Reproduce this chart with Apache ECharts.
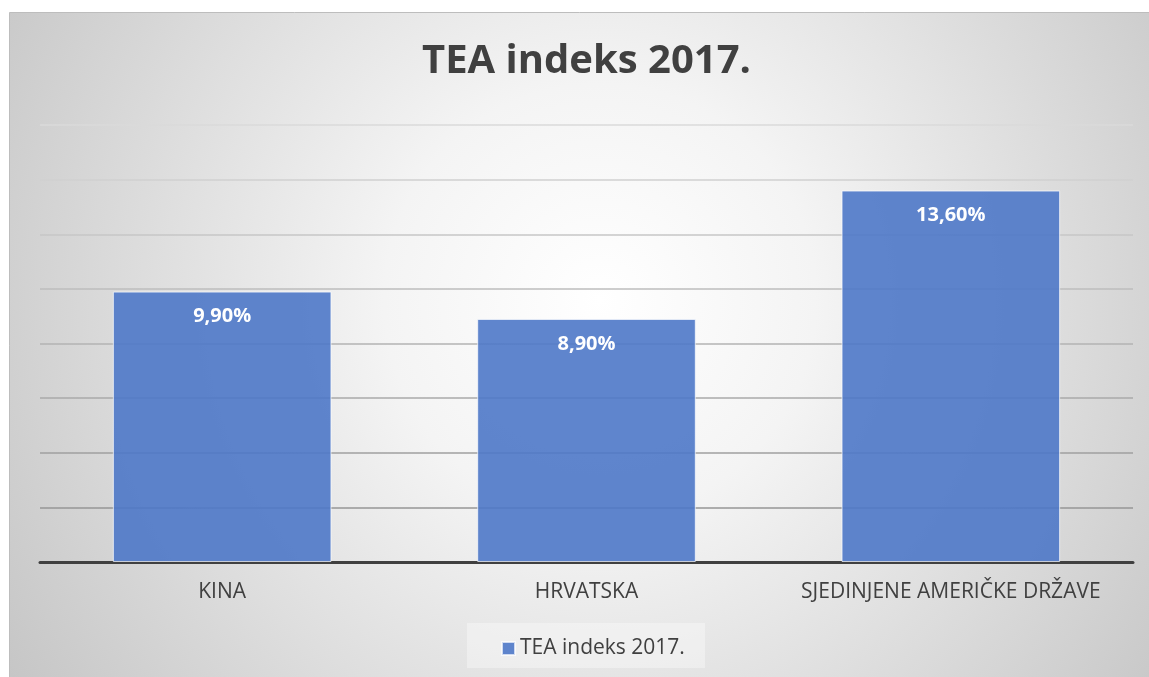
<!DOCTYPE html>
<html>
<head>
<meta charset="utf-8">
<script src="https://cdn.jsdelivr.net/npm/echarts@6/dist/echarts.min.js"></script>
<style>
html, body { margin: 0; padding: 0; background: #fff; }
#chart { width: 1149px; height: 677px; }
</style>
</head>
<body>
<div id="chart"></div>
<script>
var categories = ['KINA', 'HRVATSKA', 'SJEDINJENE AMERIČKE DRŽAVE'];
var teaValues = [9.9, 8.9, 13.6];
var seriesName = 'TEA indeks 2017.';

var myChart = echarts.init(document.getElementById('chart'));

var option = {
    backgroundColor: '#ffffff',
    animation: false,
    textStyle: { fontFamily: 'Open Sans' },
    graphic: [{
        type: 'rect',
        z: -10,
        silent: true,
        shape: { x: 9.5, y: 12.5, width: 1145, height: 670 },
        style: {
            stroke: '#bdbdbd',
            lineWidth: 1,
            fill: {
                type: 'radial', x: 600, y: 300, r: 720, global: true,
                colorStops: [
                    { offset: 0, color: '#ffffff' },
                    { offset: 0.3, color: '#f4f4f4' },
                    { offset: 1, color: '#c4c4c4' }
                ]
            }
        }
    }, {
        type: 'rect',
        z: -5,
        silent: true,
        shape: { x: 467, y: 623, width: 238, height: 45 },
        style: { fill: 'rgba(255,255,255,0.35)' }
    }],
    title: {
        text: 'TEA indeks 2017.',
        left: 417,
        top: 37,
        textStyle: {
            fontFamily: 'Open Sans',
            fontSize: 40,
            fontWeight: 'bold',
            color: '#404040'
        }
    },
    legend: {
        data: [seriesName],
        bottom: 13,
        left: 496,
        icon: 'rect',
        itemWidth: 13,
        itemHeight: 13,
        itemGap: 6,
        textStyle: { fontSize: 21, color: '#404040', fontFamily: 'Open Sans' }
    },
    grid: {
        left: 40,
        right: 16,
        top: 125,
        bottom: 115
    },
    xAxis: {
        type: 'category',
        data: categories,
        axisTick: { show: false },
        axisLine: { lineStyle: { color: '#404040', width: 3 } },
        axisLabel: {
            interval: 0,
            fontSize: 21,
            color: '#404040',
            margin: 20,
            fontFamily: 'Open Sans'
        }
    },
    yAxis: {
        type: 'value',
        min: 0,
        max: 16,
        interval: 2,
        axisLabel: { show: false },
        axisLine: { show: false },
        axisTick: { show: false },
        splitLine: {
            lineStyle: {
                width: 1.5,
                color: {
                    type: 'linear', x: 0, y: 125, x2: 0, y2: 562, global: true,
                    colorStops: [
                        { offset: 0, color: '#dadada' },
                        { offset: 1, color: '#8c8c8c' }
                    ]
                }
            }
        }
    },
    series: [{
        name: seriesName,
        type: 'bar',
        data: teaValues,
        barWidth: '60%',
        itemStyle: {
            color: 'rgba(78,120,200,0.9)',
            borderColor: 'rgba(255,255,255,0.7)',
            borderWidth: 1
        },
        label: {
            show: true,
            position: 'insideTop',
            distance: 15,
            color: '#ffffff',
            fontSize: 20,
            fontWeight: 'bold',
            fontFamily: 'Open Sans',
            formatter: function (p) {
                return p.value.toFixed(2).replace('.', ',') + '%';
            }
        }
    }]
};

myChart.setOption(option);
</script>
</body>
</html>
